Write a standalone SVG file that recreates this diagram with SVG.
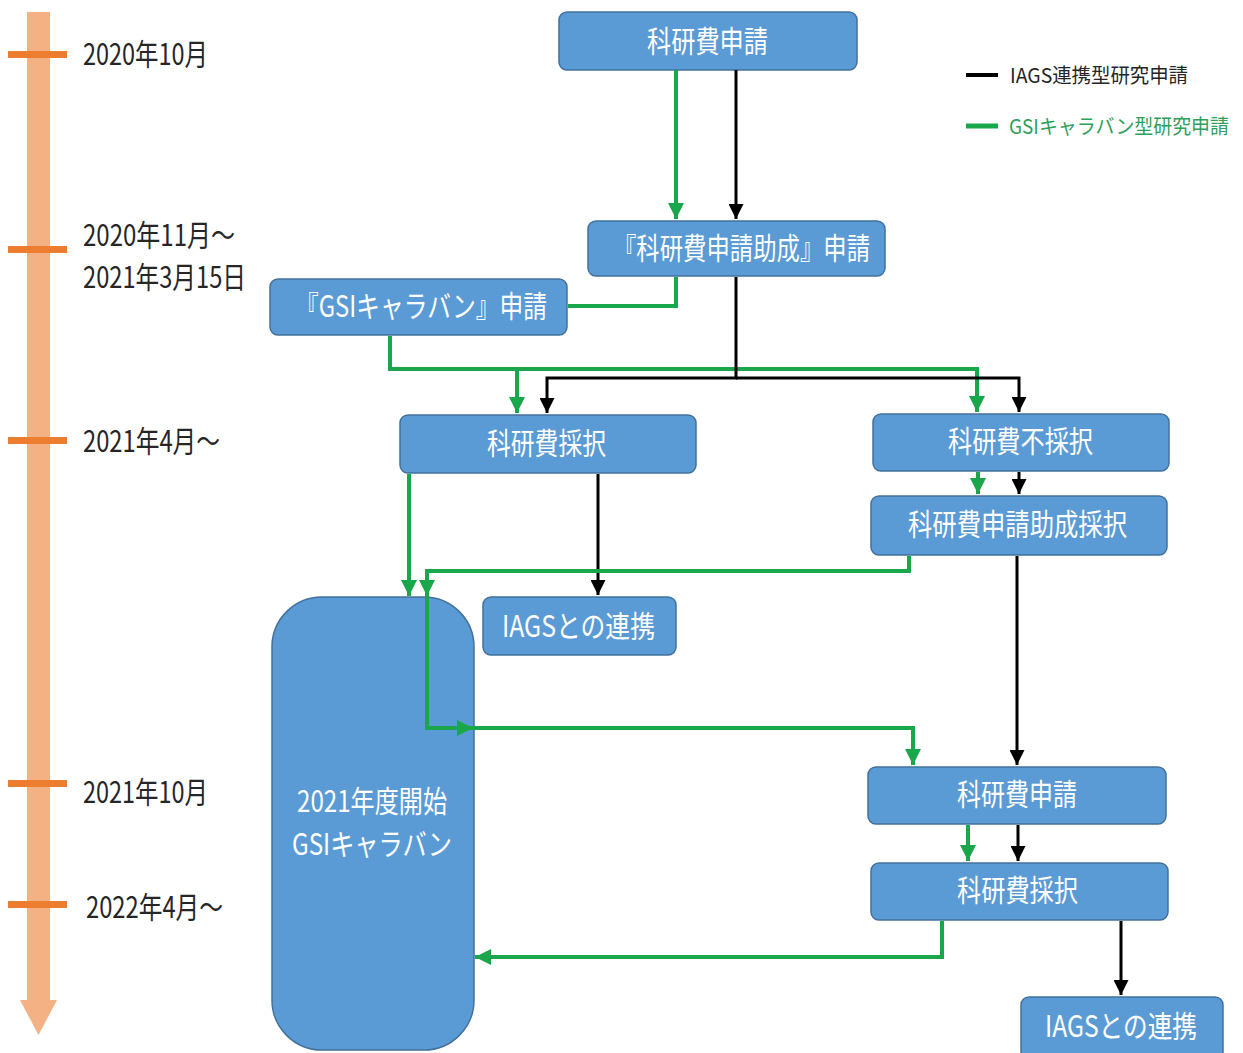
<svg xmlns="http://www.w3.org/2000/svg" width="1243" height="1053" viewBox="0 0 1243 1053">
<style>
.node{fill:#5B9BD5;stroke:#41719C;stroke-width:1.5}
.nt{font-family:"Noto Sans CJK JP","Noto Sans",sans-serif;font-size:30px;fill:#FFFFFF;text-anchor:start}
.tl{font-family:"Noto Sans CJK JP","Noto Sans",sans-serif;font-size:30px;fill:#262626}
.tick{fill:#ED7D31}
.g{fill:none;stroke:#1AA64A;stroke-width:4}
.k{fill:none;stroke:#000000;stroke-width:3}
.lg{font-family:"Noto Sans CJK JP","Noto Sans",sans-serif;font-size:20px}
</style>
<defs>
<marker id="ag" viewBox="0 0 10 10" refX="10" refY="5" markerWidth="4" markerHeight="4" orient="auto" markerUnits="strokeWidth"><path d="M0,0 L10,5 L0,10 z" fill="#1AA64A"/></marker>
<marker id="ak" viewBox="0 0 10 10" refX="10" refY="5" markerWidth="5" markerHeight="5" orient="auto" markerUnits="strokeWidth"><path d="M0,0 L10,5 L0,10 z" fill="#000000"/></marker>
</defs>
<rect width="1243" height="1053" fill="#FFFFFF"/>
<g id="timeline">
<rect x="27" y="12" width="23" height="990" fill="#F4B183"/>
<polygon points="20,1000 57,1000 38.5,1035" fill="#F4B183"/>
<rect class="tick" x="8" y="51" width="59" height="7"/>
<rect class="tick" x="8" y="246" width="59" height="7"/>
<rect class="tick" x="8" y="437" width="59" height="7"/>
<rect class="tick" x="8" y="780" width="59" height="7"/>
<rect class="tick" x="8" y="901" width="59" height="7"/>
<text class="tl" x="83" y="65" textLength="125" lengthAdjust="spacingAndGlyphs">2020年10月</text>
<text class="tl" x="83" y="246" textLength="152" lengthAdjust="spacingAndGlyphs">2020年11月～</text>
<text class="tl" x="83" y="288" textLength="163" lengthAdjust="spacingAndGlyphs">2021年3月15日</text>
<text class="tl" x="83" y="452" textLength="137" lengthAdjust="spacingAndGlyphs">2021年4月～</text>
<text class="tl" x="83" y="803" textLength="125" lengthAdjust="spacingAndGlyphs">2021年10月</text>
<text class="tl" x="86" y="918" textLength="137" lengthAdjust="spacingAndGlyphs">2022年4月～</text>
</g>
<g id="legend">
<line x1="966" y1="75" x2="998" y2="75" stroke="#000" stroke-width="4"/>
<text class="lg" x="1010" y="83" fill="#262626" textLength="178" lengthAdjust="spacingAndGlyphs">IAGS連携型研究申請</text>
<line x1="966" y1="126" x2="998" y2="126" stroke="#1AA64A" stroke-width="5"/>
<text class="lg" x="1009" y="134" fill="#2EA05A" textLength="220" lengthAdjust="spacingAndGlyphs">GSIキャラバン型研究申請</text>
</g>
<g id="n1"><rect class="node" x="559" y="12" width="298" height="58" rx="8"/><text class="nt" x="647" y="52" textLength="121" lengthAdjust="spacingAndGlyphs">科研費申請</text></g>
<g id="n2"><rect class="node" x="588" y="221" width="297" height="55" rx="8"/><text class="nt" x="613" y="259" textLength="257" lengthAdjust="spacingAndGlyphs">『科研費申請助成』申請</text></g>
<g id="n3"><rect class="node" x="270" y="279" width="297" height="56" rx="8"/><text class="nt" x="295" y="317" textLength="252" lengthAdjust="spacingAndGlyphs">『GSIキャラバン』申請</text></g>
<g id="n4"><rect class="node" x="400" y="415" width="296" height="58" rx="8"/><text class="nt" x="487" y="454" textLength="119" lengthAdjust="spacingAndGlyphs">科研費採択</text></g>
<g id="n5"><rect class="node" x="873" y="414" width="296" height="57" rx="8"/><text class="nt" x="948" y="452" textLength="145" lengthAdjust="spacingAndGlyphs">科研費不採択</text></g>
<g id="n6"><rect class="node" x="871" y="496" width="296" height="59" rx="8"/><text class="nt" x="908" y="535" textLength="219" lengthAdjust="spacingAndGlyphs">科研費申請助成採択</text></g>
<g id="n7"><rect class="node" x="483" y="597" width="193" height="58" rx="8"/><text class="nt" x="502" y="637" textLength="153" lengthAdjust="spacingAndGlyphs">IAGSとの連携</text></g>
<g id="n8"><rect class="node" x="272" y="597" width="202" height="453" rx="50"/><text class="nt" x="297" y="812" textLength="150" lengthAdjust="spacingAndGlyphs">2021年度開始</text><text class="nt" x="292" y="855" textLength="160" lengthAdjust="spacingAndGlyphs">GSIキャラバン</text></g>
<g id="n9"><rect class="node" x="868" y="767" width="298" height="57" rx="8"/><text class="nt" x="957" y="805" textLength="120" lengthAdjust="spacingAndGlyphs">科研費申請</text></g>
<g id="n10"><rect class="node" x="871" y="863" width="297" height="57" rx="8"/><text class="nt" x="957" y="901" textLength="121" lengthAdjust="spacingAndGlyphs">科研費採択</text></g>
<g id="n11"><rect class="node" x="1021" y="997" width="202" height="62" rx="8"/><text class="nt" x="1045" y="1037" textLength="152" lengthAdjust="spacingAndGlyphs">IAGSとの連携</text></g>
<g id="connectors">
<line class="g" x1="676" y1="70" x2="676" y2="219" marker-end="url(#ag)"/>
<line class="k" x1="736" y1="70" x2="736" y2="219" marker-end="url(#ak)"/>
<polyline class="g" points="676,277 676,306 568,306"/>
<polyline class="g" points="390,336 390,369 977,369 977,412" marker-end="url(#ag)"/>
<line class="g" x1="517" y1="369" x2="517" y2="413" marker-end="url(#ag)"/>
<polyline class="k" points="736,277 736,378 547,378 547,413" marker-end="url(#ak)"/>
<polyline class="k" points="736,378 1019,378 1019,412" marker-end="url(#ak)"/>
<line class="g" x1="978" y1="472" x2="978" y2="494" marker-end="url(#ag)"/>
<line class="k" x1="1019" y1="472" x2="1019" y2="494" marker-end="url(#ak)"/>
<line class="g" x1="409" y1="474" x2="409" y2="596" marker-end="url(#ag)"/>
<line class="k" x1="598" y1="474" x2="598" y2="595" marker-end="url(#ak)"/>
<polyline class="g" points="909,556 909,571 427,571 427,728 913,728 913,765" marker-end="url(#ag)"/>
<line class="g" x1="427" y1="575" x2="427" y2="596" marker-end="url(#ag)"/>
<line class="g" x1="440" y1="728" x2="473" y2="728" marker-end="url(#ag)"/>
<line class="k" x1="1017" y1="556" x2="1017" y2="765" marker-end="url(#ak)"/>
<line class="g" x1="968" y1="825" x2="968" y2="861" marker-end="url(#ag)"/>
<line class="k" x1="1018" y1="825" x2="1018" y2="861" marker-end="url(#ak)"/>
<polyline class="g" points="942,921 942,957 475,957" marker-end="url(#ag)"/>
<line class="k" x1="1121" y1="921" x2="1121" y2="995" marker-end="url(#ak)"/>
</g>
</svg>
